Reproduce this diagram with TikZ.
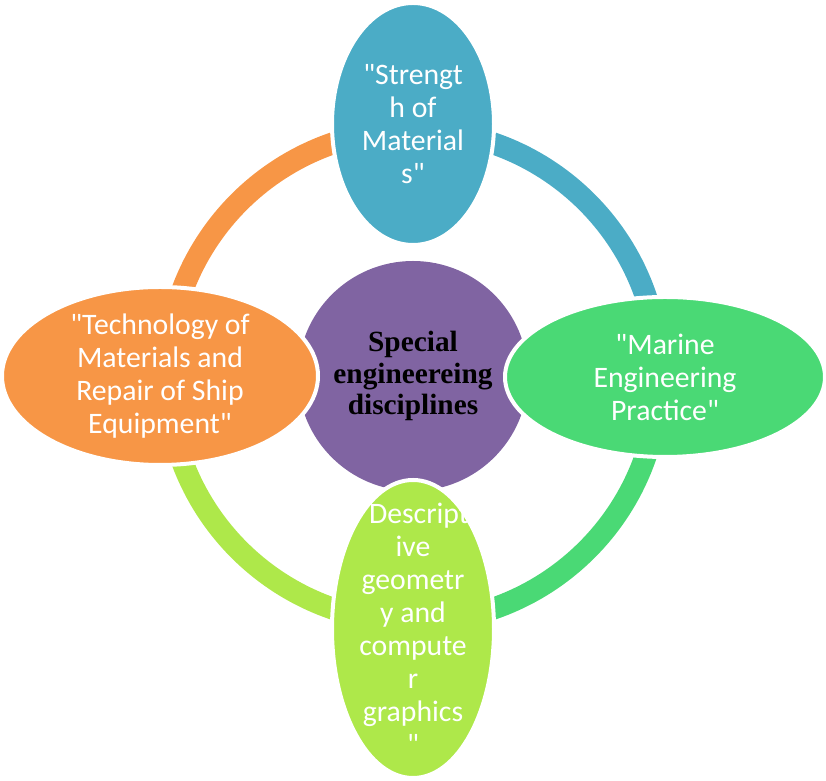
\documentclass[tikz,border=0pt]{standalone}
\usepackage{fontspec}
\newfontfamily\topicfont{Carlito}
\newfontfamily\hubfont{Liberation Serif}
\usetikzlibrary{shapes.geometric}
\definecolor{colorblue}  {RGB}{75,172,198}
\definecolor{colorgreen} {RGB}{74,217,117}
\definecolor{colorlime}  {RGB}{174,232,74}
\definecolor{colororange}{RGB}{247,150,70}
\definecolor{colorpurple}{RGB}{128,100,162}

\begin{document}
\begin{tikzpicture}[
    x=0.75pt, y=0.75pt,
    hub/.style={circle,fill=colorpurple,minimum size=172.5pt,inner sep=0pt,align=center,font={\hubfont\bfseries\fontsize{22}{23.5}\selectfont}},
    topic/.style={ellipse,draw=white,line width=3pt,inner sep=0pt},
    caption/.style={text=white,align=center,inner sep=0pt,font={\topicfont\fontsize{22.3}{24.75}\selectfont}},
    ring/.style={line width=16.5pt},
]
    \useasboundingbox (0,0) rectangle (826,781);

    % Centre
    \node[hub] (hub) at (413,405) {Special\\engineereing\\disciplines};

    % Ring quarters
    \draw[ring,colorblue]   (hub.center) ++(0:184.5pt)   arc[start angle=0,  end angle=90, radius=184.5pt];
    \draw[ring,colororange] (hub.center) ++(90:184.5pt)  arc[start angle=90, end angle=180,radius=184.5pt];
    \draw[ring,colorlime]   (hub.center) ++(180:184.5pt) arc[start angle=180,end angle=270,radius=184.5pt];
    \draw[ring,colorgreen]  (hub.center) ++(270:184.5pt) arc[start angle=270,end angle=360,radius=184.5pt];

    % Disciplines
    \node[topic,fill=colorblue,minimum width=121.5pt,minimum height=181.5pt] (strength) at (413,657) {};
    \node[topic,fill=colorgreen,minimum width=240pt,minimum height=120pt] (marine) at (665,404) {};
    \node[topic,fill=colorlime,minimum width=121.5pt,minimum height=223.5pt] (graphics) at (413,152) {};
    \node[topic,fill=colororange,minimum width=237pt,minimum height=133.5pt] (repair) at (160,405) {};

    \node[caption] at (strength) {"Strengt\\h of\\Material\\s"};
    \node[caption] at (marine) {"Marine\\Engineering\\Practice"};
    \node[caption] at (graphics) {"Descript\\ive\\geometr\\y and\\compute\\r\\graphics\\"};
    \node[caption] at (repair) {"Technology of\\Materials and\\Repair of Ship\\Equipment"};

\end{tikzpicture}
\end{document}
